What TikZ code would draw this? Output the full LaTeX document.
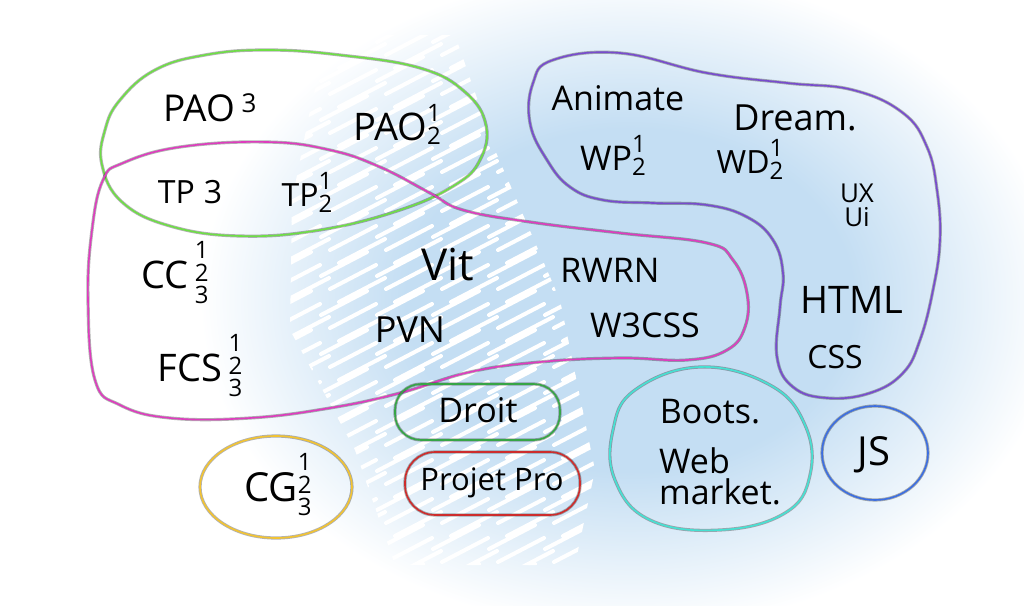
\documentclass[tikz,border=0pt]{standalone}
\usepackage{fontspec}
\setmainfont{Open Sans}

\definecolor{glow}{RGB}{196,222,243}
\definecolor{limeline}{RGB}{110,222,70}
\definecolor{pinkline}{RGB}{222,60,190}
\definecolor{violetline}{RGB}{120,75,205}
\definecolor{cyanline}{RGB}{70,225,210}
\definecolor{blueline}{RGB}{60,110,225}
\definecolor{greenline}{RGB}{55,165,70}
\definecolor{redline}{RGB}{205,45,45}
\definecolor{yellowline}{RGB}{242,195,50}

\pgfdeclareradialshading{glowshade}{\pgfpoint{0bp}{0bp}}{color(0bp)=(glow); color(13bp)=(glow); color(25bp)=(white); color(50bp)=(white)}

\newcommand{\hand}[1]{\fontsize{#1}{#1}\selectfont}
% stacked digits, centred on the letters
\newcommand{\stk}[1]{\raisebox{\dimexpr.36em-.5\height+.5\depth\relax}{\fontsize{24}{17}\selectfont\begin{tabular}{@{}c@{}}#1\end{tabular}}}

\tikzset{
  word/.style={inner sep=0pt, text=black, font=\hand{34}},
  sketch/.style={line width=1.6pt, line join=round, line cap=round, preaction={draw, line width=3.2pt, opacity=.3}},
  hatch/.style={white, line width=4pt, line cap=round},
}

\begin{document}
\begin{tikzpicture}[x=1pt,y=-1pt]
        \useasboundingbox (0,0) rectangle (1024,605);
        \fill[white] (0,0) rectangle (1024,605);
        \shade[shading=glowshade] (200,-30) rectangle (1060,630);

        % white hatching
        \begin{scope}
            \clip (330,35) -- (455,35) -- (495,150) -- (560,300) -- (595,470) -- (575,565) -- (395,565) -- (355,450) -- (290,330) -- (292,200) -- (312,100) -- cycle;
            \foreach \row in {0,...,42} {
                \foreach \col in {0,...,6} {
                    \pgfmathsetmacro\hx{265+\col*56+mod(\row*7,3)*9}
                    \pgfmathsetmacro\hy{30+\row*13}
                    \draw[hatch] (\hx,\hy+12) -- (\hx+46,\hy-12);
                }
            }
        \end{scope}

        % groups
        \draw[sketch, limeline] plot[smooth cycle, tension=.7] coordinates {(120,100) (155,70) (205,55) (267,50) (340,55) (420,68) (465,92) (486,125) (480,160) (455,185) (400,210) (320,230) (240,236) (170,226) (122,202) (102,165) (105,130)};
        \draw[sketch, pinkline] plot[smooth cycle, tension=.7] coordinates {(103,180) (123,163) (180,147) (267,142) (330,150) (380,167) (430,193) (463,210) (530,222) (620,233) (707,243) (733,260) (747,293) (745,327) (727,350) (687,360) (620,358) (540,362) (470,372) (400,393) (330,408) (250,418) (170,418) (120,405) (95,380) (88,300) (92,230)};
        \draw[sketch, violetline] plot[smooth cycle, tension=.7] coordinates {(553,60) (620,53) (707,73) (787,83) (853,90) (903,113) (927,147) (937,190) (940,240) (933,290) (920,340) (903,373) (870,393) (827,398) (793,387) (777,357) (780,307) (783,273) (773,240) (747,217) (707,205) (653,203) (603,200) (570,187) (547,160) (530,123) (533,83)};
        \draw[sketch, cyanline] plot[smooth cycle, tension=.7] coordinates {(700,367) (770,385) (805,425) (810,475) (785,513) (720,530) (650,520) (615,480) (613,430) (635,390)};
        \draw[sketch, blueline] (875,453) ellipse [x radius=53, y radius=47];
        \draw[sketch, greenline, rounded corners=26pt] (395,384) rectangle (560,440);
        \draw[sketch, redline, rounded corners=30pt] (405,452) rectangle (580,515);
        \draw[sketch, yellowline] (276,487) ellipse [x radius=76, y radius=51];

        % courses
        \node[word, font=\hand{37}] (pao3) at (210,108) {PAO\,\raisebox{.25em}{\hand{26}3}};
        \node[word, font=\hand{38}] (pao12) at (397,127) {PAO\stk{1\\2}};
        \node[word, font=\hand{32}] (tp3) at (190,192) {TP\;3};
        \node[word, font=\hand{32}] (tp12) at (307,195) {TP\stk{1\\2}};
        \node[word, font=\hand{38}] (cc) at (175,275) {CC\,\stk{1\\2\\3}};
        \node[word, font=\hand{38}] (fcs) at (200,368) {FCS\,\stk{1\\2\\3}};
        \node[word, font=\hand{40}] (cg) at (278,487) {CG\stk{1\\2\\3}};
        \node[word, font=\hand{44}] (vit) at (448,265) {Vit};
        \node[word, font=\hand{36}] (pvn) at (410,330) {PVN};
        \node[word] (rwrn) at (610,270) {RWRN};
        \node[word] (w3css) at (645,325) {W3CSS};
        \node[word] (animate) at (618,98) {Animate};
        \node[word, font=\hand{36}] (dream) at (795,118) {Dream.};
        \node[word] (wp) at (613,158) {WP\stk{1\\2}};
        \node[word, font=\hand{32}] (wd) at (750,162) {WD\stk{1\\2}};
        \node[word, font=\hand{26}, align=center] (uxui) at (857,205) {UX\\[-2pt]Ui};
        \node[word, font=\hand{38}] (html) at (852,300) {HTML};
        \node[word, font=\hand{32}] (css) at (835,357) {CSS};
        \node[word] (droit) at (478,410) {Droit};
        \node[word, font=\hand{31}] (projet) at (492,483) {Projet Pro};
        \node[word] (boots) at (710,412) {Boots.};
        \node[word, align=left] (web) at (720,476) {Web\\[-3pt]market.};
        \node[word, font=\hand{40}] (js) at (874,455) {JS};
    \end{tikzpicture}
\end{document}
